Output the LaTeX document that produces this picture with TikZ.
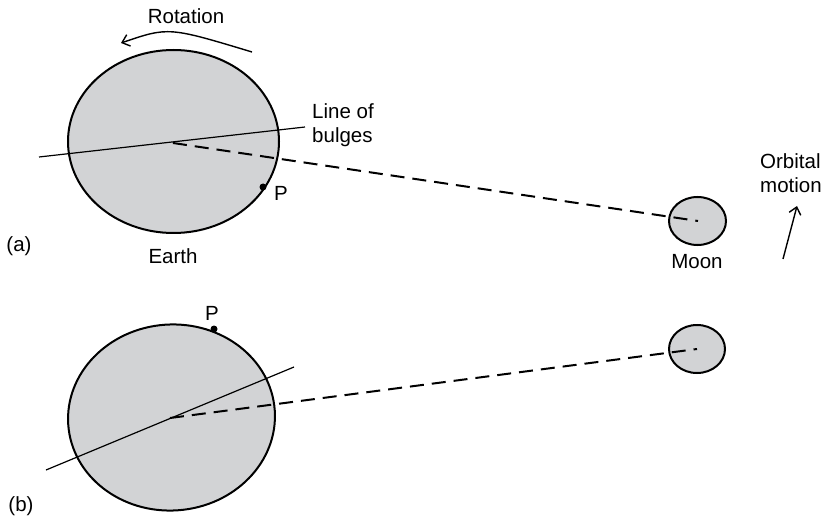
\documentclass[tikz,border=0pt]{standalone}
\usepackage{fontspec}
\setmainfont{Liberation Sans}
\usetikzlibrary{shapes.geometric,arrows.meta}
\definecolor{bodygray}{RGB}{210,211,213}
\begin{document}
\begin{tikzpicture}[x=1pt,y=-1pt,
  body/.style={ellipse,draw=black,fill=bodygray,line width=2pt,inner sep=0pt},
  bulge/.style={line width=1.2pt},
  tide/.style={line width=2pt,dash pattern=on 14pt off 8pt},
  lbl/.style={font=\fontsize{20.5}{23.5}\selectfont,inner sep=0pt},
  pdot/.style={circle,fill=black,inner sep=0pt,minimum size=7pt},
  arr/.style={line width=1.4pt,-{Straight Barb[length=7pt,width=12pt,line width=1.4pt]}}]
\useasboundingbox (0,0) rectangle (824,521);
% ---- (a)
\node[body,minimum width=211pt,minimum height=183pt] (earthA) at (173.5,141.5) {};
\node[body,minimum width=57pt,minimum height=48pt] (moonA) at (697.5,221) {};
\coordinate (cA) at (173,143);
\coordinate (mA) at (698,221);
\coordinate (bA1) at (39,157);
\coordinate (bA2) at (305,127);
\draw[bulge] (bA1) -- (bA2);
\draw[tide] (cA) -- (mA);
\node[pdot] (pA) at (263,187) {};
\node[lbl,anchor=west] (pAl) at (274,193) {P};
\coordinate (rS) at (252,52);
\coordinate (rE) at (121,43);
\draw[arr] (rS) .. controls (168.5,26.8) .. (rE);
\node[lbl] (rot) at (186,16) {Rotation};
\node[lbl,align=left,anchor=west] (lob) at (312,125) {Line of\\bulges};
\node[lbl] (la) at (19,246) {(a)};
\node[lbl] (earthL) at (173,256) {Earth};
\node[lbl] (moonL) at (697,262) {Moon};
\node[lbl,align=left,anchor=west] (orb) at (760,173) {Orbital\\motion};
\coordinate (oS) at (783,259);
\coordinate (oE) at (797,206);
\draw[arr] (oS) -- (oE);
% ---- (b)
\node[body,minimum width=207pt,minimum height=186pt,rotate=4] (earthB) at (171.5,417.5) {};
\node[body,minimum width=56pt,minimum height=48pt] (moonB) at (697,349) {};
\coordinate (cB) at (170,418);
\coordinate (mB) at (697,349);
\coordinate (bB1) at (46,470);
\coordinate (bB2) at (294,367);
\draw[bulge] (bB1) -- (bB2);
\draw[tide] (cB) -- (mB);
\node[pdot] (pB) at (214,329) {};
\node[lbl] (pBl) at (212,313) {P};
\node[lbl] (lb) at (21,506) {(b)};
\end{tikzpicture}
\end{document}
